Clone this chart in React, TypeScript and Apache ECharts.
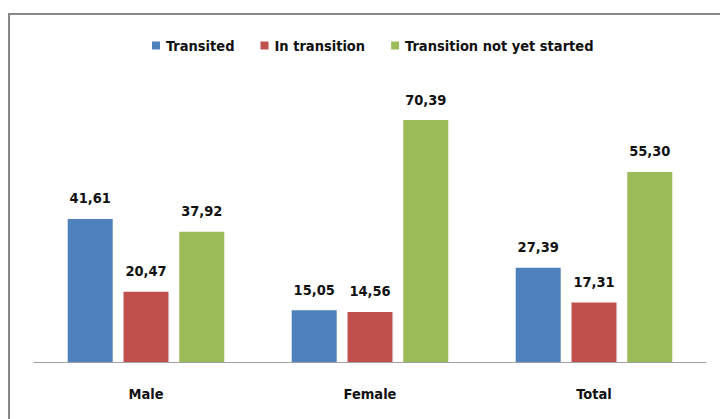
import React, { useEffect, useRef } from "react";
import * as echarts from "echarts";

const categories = ["Male", "Female", "Total"];
const seriesNames = ["Transited", "In transition", "Transition not yet started"];
const transited = [41.61, 15.05, 27.39];
const inTransition = [20.47, 14.56, 17.31];
const notStarted = [37.92, 70.39, 55.3];
const colors = ["#4F81BD", "#C0504D", "#9BBB59"];

const FONT = "'DejaVu Sans Condensed', 'DejaVu Sans', sans-serif";

export default function App() {
  const ref = useRef<HTMLDivElement>(null);
  useEffect(() => {
    if (!ref.current) return;
    const chart = echarts.init(ref.current, null, { renderer: "svg" });
    const dataSets = [transited, inTransition, notStarted];
    chart.setOption({
      animation: false,
      backgroundColor: "#ffffff",
      graphic: [
        {
          type: "rect",
          shape: { x: 9, y: 14, width: 800, height: 500 },
          style: { fill: "none", stroke: "#888888", lineWidth: 2 },
          z: 100,
        },
      ],
      legend: {
        top: 33,
        left: 147,
        padding: [5, 5],
        itemWidth: 8,
        itemHeight: 8,
        itemGap: 26,
        icon: "rect",
        textStyle: { fontFamily: FONT, fontWeight: "bold", fontSize: 14.5, color: "#111111", padding: [0, 0, 0, 1] },
        data: seriesNames,
      },
      grid: { left: 34, right: 14, top: 87, bottom: 57 },
      xAxis: {
        type: "category",
        data: categories,
        axisLine: { lineStyle: { color: "#a0a0a0", width: 1 } },
        axisTick: { show: false },
        axisLabel: { margin: 24, fontFamily: FONT, fontWeight: "bold", fontSize: 14.5, color: "#111111" },
      },
      yAxis: {
        type: "value",
        min: 0,
        max: 80,
        show: false,
        splitLine: { show: false },
      },
      series: dataSets.map((d, i) => ({
        name: seriesNames[i],
        type: "bar",
        data: d,
        barWidth: 45,
        barGap: "24%",
        itemStyle: { color: colors[i] },
        label: {
          show: true,
          position: "top",
          distance: 13,
          fontFamily: FONT,
          fontWeight: "bold",
          fontSize: 14.5,
          color: "#111111",
          formatter: (p: any) => p.value.toFixed(2).replace(".", ","),
        },
      })),
    });
    return () => chart.dispose();
  }, []);
  return <div ref={ref} style={{ position: "absolute", left: 0, top: 0, width: 720, height: 419 }} />;
}
